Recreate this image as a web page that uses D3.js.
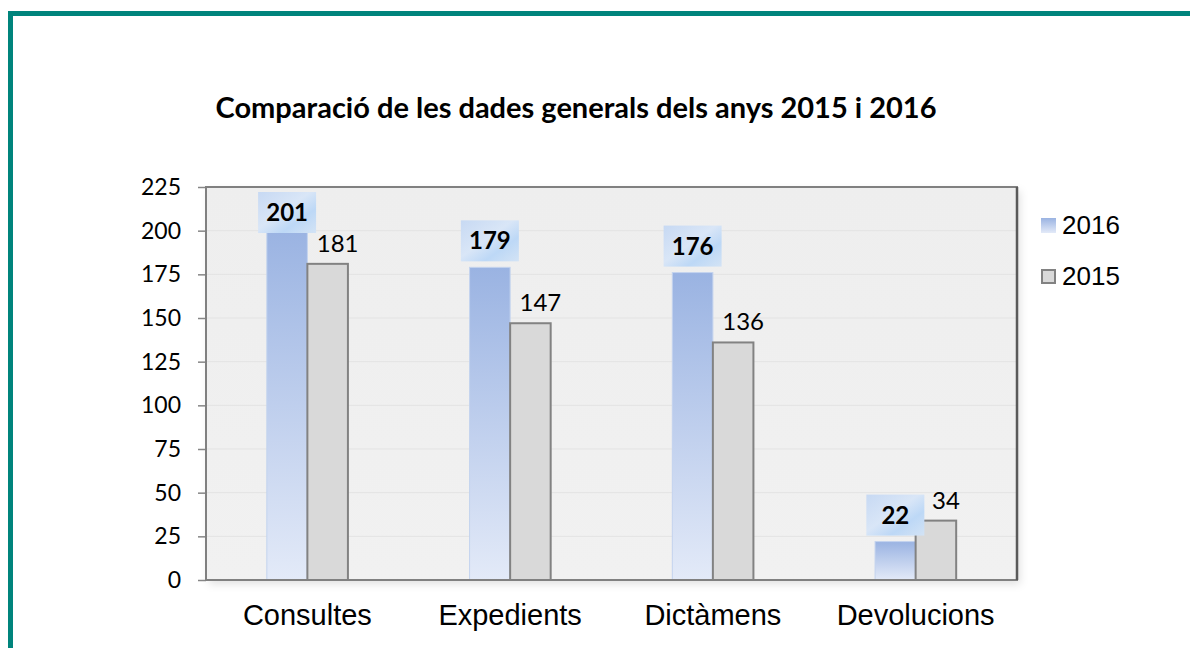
<!DOCTYPE html>
<html>
<head>
<meta charset="utf-8">
<script src="https://cdn.jsdelivr.net/npm/d3@7"></script>
<style>
  html, body { margin: 0; padding: 0; background: #fff; }
  svg { display: block; }
</style>
</head>
<body>
<svg id="chart" width="1190" height="648"></svg>
<script>
const categories = ["Consultes", "Expedients", "Dictàmens", "Devolucions"];
const seriesNames = ["2016", "2015"];
const values2016 = [201, 179, 176, 22];
const values2015 = [181, 147, 136, 34];
const yTicks = [0, 25, 50, 75, 100, 125, 150, 175, 200, 225];
const title = "Comparació de les dades generals dels anys 2015 i 2016";

const svg = d3.select("#chart");
const W = 1190, H = 648;
const plot = { left: 206, right: 1017, top: 187, bottom: 580 };
const calibri = "Lato, 'Open Sans', sans-serif";
const arial = "'Liberation Sans', Arial, sans-serif";

const defs = svg.append("defs");
const g16 = defs.append("linearGradient").attr("id", "g16")
  .attr("x1", 0).attr("y1", 0).attr("x2", 0).attr("y2", 1);
g16.append("stop").attr("offset", "0%").attr("stop-color", "#9ab3e2");
g16.append("stop").attr("offset", "100%").attr("stop-color", "#e3eaf8");

const gBox = defs.append("linearGradient").attr("id", "gbox")
  .attr("x1", 0).attr("y1", 0).attr("x2", 1).attr("y2", 1);
gBox.append("stop").attr("offset", "0%").attr("stop-color", "#c7d9f3");
gBox.append("stop").attr("offset", "45%").attr("stop-color", "#d9e6f7");
gBox.append("stop").attr("offset", "70%").attr("stop-color", "#bdd8f6");
gBox.append("stop").attr("offset", "100%").attr("stop-color", "#d3e3f5");

const gBg = defs.append("linearGradient").attr("id", "gbg")
  .attr("x1", 0).attr("y1", 0).attr("x2", 0).attr("y2", 1);
gBg.append("stop").attr("offset", "0%").attr("stop-color", "#eeeeee");
gBg.append("stop").attr("offset", "100%").attr("stop-color", "#f1f1f1");

const shadow = defs.append("filter").attr("id", "shadow")
  .attr("x", "-5%").attr("y", "-5%").attr("width", "110%").attr("height", "115%");
shadow.append("feDropShadow").attr("dx", 3).attr("dy", 4).attr("stdDeviation", 4)
  .attr("flood-color", "#000").attr("flood-opacity", 0.12);

// Outer teal frame
svg.append("rect").attr("x", 8).attr("y", 11).attr("width", W - 8).attr("height", 5).attr("fill", "#00847c");
svg.append("rect").attr("x", 8).attr("y", 11).attr("width", 5).attr("height", H - 11).attr("fill", "#00847c");

// Title
svg.append("text")
  .attr("x", 576).attr("y", 118)
  .attr("text-anchor", "middle")
  .attr("font-family", calibri).attr("font-weight", "bold").attr("font-size", 29)
  .attr("fill", "#000")
  .text(title);

// Scales
const x0 = d3.scaleBand().domain(categories).range([plot.left, plot.right])
  .paddingInner(0.6).paddingOuter(0.3);
const x1 = d3.scaleBand().domain(seriesNames).range([0, x0.bandwidth()]);
const y = d3.scaleLinear().domain([0, 225]).range([plot.bottom, plot.top]);

// Plot background
svg.append("rect")
  .attr("x", plot.left).attr("y", plot.top)
  .attr("width", plot.right - plot.left).attr("height", plot.bottom - plot.top)
  .attr("fill", "url(#gbg)").attr("filter", "url(#shadow)");

// Gridlines
svg.append("g").selectAll("line").data(yTicks.filter(d => d > 0 && d < 225)).join("line")
  .attr("x1", plot.left).attr("x2", plot.right)
  .attr("y1", d => y(d)).attr("y2", d => y(d))
  .attr("stroke", "#e3e3e3").attr("stroke-width", 1);

// Y axis
const yAxis = svg.append("g")
  .attr("transform", `translate(${plot.left},0)`)
  .call(d3.axisLeft(y).tickValues(yTicks).tickSize(8).tickPadding(17));
yAxis.select(".domain").remove();
yAxis.selectAll(".tick line").attr("stroke", "#868686").attr("stroke-width", 1.5);
yAxis.selectAll(".tick text")
  .attr("font-family", calibri).attr("font-size", 23).attr("fill", "#000");

// Bars
const groups = svg.append("g").selectAll("g").data(categories).join("g")
  .attr("transform", d => `translate(${x0(d)},0)`);

groups.append("rect")
  .attr("x", x1("2016"))
  .attr("y", (d, i) => y(values2016[i]))
  .attr("width", x1.bandwidth())
  .attr("height", (d, i) => y(0) - y(values2016[i]))
  .attr("fill", "url(#g16)")
  .attr("stroke", "#c3d3ee").attr("stroke-width", 1);

groups.append("rect")
  .attr("x", x1("2015"))
  .attr("y", (d, i) => y(values2015[i]))
  .attr("width", x1.bandwidth())
  .attr("height", (d, i) => y(0) - y(values2015[i]))
  .attr("fill", "#d9d9d9")
  .attr("stroke", "#828282").attr("stroke-width", 2);

// Plot border
svg.append("rect")
  .attr("x", plot.left).attr("y", plot.top)
  .attr("width", plot.right - plot.left).attr("height", plot.bottom - plot.top)
  .attr("fill", "none").attr("stroke", "#808080").attr("stroke-width", 2);
svg.append("line")
  .attr("x1", plot.right).attr("x2", plot.right)
  .attr("y1", plot.top).attr("y2", plot.bottom)
  .attr("stroke", "#5a5a5a").attr("stroke-width", 2.5);

// 2016 labels with boxes
const boxW = 58, boxH = 41;
const lab16 = groups.append("g")
  .attr("transform", (d, i) => {
    const cx = x1("2016") + x1.bandwidth() / 2;
    const top = Math.max(y(values2016[i]) - 6 - boxH, plot.top + 5);
    return `translate(${cx},${top})`;
  });
lab16.append("rect")
  .attr("x", -boxW / 2).attr("y", 0).attr("width", boxW).attr("height", boxH)
  .attr("fill", "url(#gbox)");
lab16.append("text")
  .attr("x", 0).attr("y", 29)
  .attr("text-anchor", "middle")
  .attr("font-family", calibri).attr("font-weight", "bold").attr("font-size", 24)
  .attr("fill", "#000")
  .text((d, i) => values2016[i]);

// 2015 labels
groups.append("text")
  .attr("x", x1("2015") + x1.bandwidth() / 2 + 10)
  .attr("y", (d, i) => y(values2015[i]) - 12)
  .attr("text-anchor", "middle")
  .attr("font-family", calibri).attr("font-size", 24)
  .attr("fill", "#000")
  .text((d, i) => values2015[i]);

// Category labels
svg.append("g").selectAll("text").data(categories).join("text")
  .attr("x", d => x0(d) + x0.bandwidth() / 2)
  .attr("y", 625)
  .attr("text-anchor", "middle")
  .attr("font-family", arial).attr("font-size", 29)
  .attr("fill", "#000")
  .text(d => d);

// Legend
const legend = svg.append("g");
const legItems = legend.selectAll("g").data(seriesNames).join("g")
  .attr("transform", (d, i) => `translate(1041,${218 + i * 51})`);
legItems.append("rect")
  .attr("x", (d, i) => i === 0 ? 0 : 1).attr("y", (d, i) => i === 0 ? 0 : 1)
  .attr("width", (d, i) => i === 0 ? 15 : 13).attr("height", (d, i) => i === 0 ? 15 : 13)
  .attr("fill", (d, i) => i === 0 ? "url(#g16)" : "#d9d9d9")
  .attr("stroke", (d, i) => i === 0 ? "none" : "#828282")
  .attr("stroke-width", 2);
legItems.append("text")
  .attr("x", 21).attr("y", 16)
  .attr("font-family", arial).attr("font-size", 26)
  .attr("fill", "#000")
  .text(d => d);
</script>
</body>
</html>
